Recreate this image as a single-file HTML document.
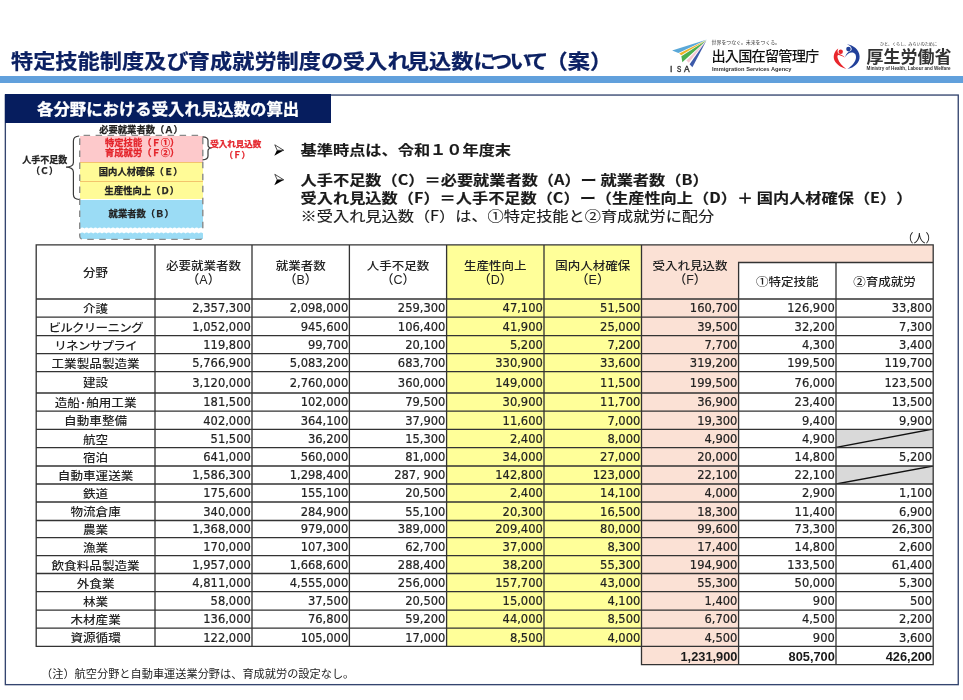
<!DOCTYPE html>
<html lang="ja"><head><meta charset="utf-8"><title>受入れ見込数</title>
<style>
html,body{margin:0;padding:0;}
body{width:963px;height:700px;position:relative;overflow:hidden;background:#fff;color:#1a1a1a;font-family:'Liberation Sans', 'Noto Sans CJK JP', sans-serif;}
.a{position:absolute;white-space:nowrap;line-height:1;}
*{text-spacing-trim:space-all;}
</style></head><body>
<div class="a" style="left:11px;top:49.5px;font-size:22.2px;font-weight:700;-webkit-text-stroke:0.25px #0c2163;color:#0c2163;transform:scaleY(0.91);font-feature-settings:'palt';transform-origin:0 0;font-family:'Noto Sans CJK JP', 'Liberation Sans', sans-serif;">特定技能制度及び育成就労制度の受入<span style="letter-spacing:-2.6px">れ</span>見込数<span style="letter-spacing:-4.2px">に</span><span style="letter-spacing:-2.1px">つ</span><span style="letter-spacing:-4.2px">い</span><span style="letter-spacing:-1px">て</span><span style="font-feature-settings:normal">（案）</span></div>
<div style="position:absolute;left:0;top:76px;width:963px;height:7px;background:#61a0dc;"></div>
<svg style="position:absolute;left:0;top:0" width="963" height="700"><rect x="5.35" y="95.05" width="952.9" height="589.6" stroke="#34456f" stroke-width="1.35" fill="none"/></svg>
<div style="position:absolute;left:5px;top:94.1px;width:325.8px;height:28.5px;background:#061d5e;"></div>
<div class="a" style="left:37px;top:100.2px;font-size:16.4px;font-weight:bold;color:#fff;-webkit-text-stroke:0.3px #fff;font-family:'Noto Sans CJK JP', 'Liberation Sans', sans-serif;">各分野における受入れ見込数の算出</div>
<div style="position:absolute;left:446.60px;top:244.80px;width:194.90px;height:401.50px;background:#ffff99;"></div>
<div style="position:absolute;left:641.50px;top:244.80px;width:97.10px;height:419.80px;background:#fbe1d5;"></div>
<div style="position:absolute;left:738.60px;top:244.80px;width:194.60px;height:17.70px;background:#fbe1d5;"></div>
<div style="position:absolute;left:836.00px;top:429.30px;width:97.20px;height:18.40px;background:#d9d9d9;"></div>
<svg style="position:absolute;left:836.00px;top:429.30px" width="97.20" height="18.40"><line x1="0" y1="18.40" x2="97.20" y2="0" stroke="#111" stroke-width="1.4"/></svg>
<div style="position:absolute;left:836.00px;top:466.00px;width:97.20px;height:18.00px;background:#d9d9d9;"></div>
<svg style="position:absolute;left:836.00px;top:466.00px" width="97.20" height="18.00"><line x1="0" y1="18.00" x2="97.20" y2="0" stroke="#111" stroke-width="1.4"/></svg>
<svg style="position:absolute;left:0;top:0" width="963" height="700"><path d="M35.55,244.80H933.85 M35.55,299.00H933.85 M35.55,317.20H933.85 M35.55,335.60H933.85 M35.55,353.60H933.85 M35.55,371.70H933.85 M35.55,393.00H933.85 M35.55,411.20H933.85 M35.55,429.30H933.85 M35.55,447.70H933.85 M35.55,466.00H933.85 M35.55,484.00H933.85 M35.55,502.00H933.85 M35.55,520.50H933.85 M35.55,537.70H933.85 M35.55,555.70H933.85 M35.55,573.50H933.85 M35.55,591.70H933.85 M35.55,610.10H933.85 M35.55,628.10H933.85 M35.55,646.30H933.85 M640.85,664.60H933.85 M737.95,262.5H933.85 M36.20,244.15V646.95 M155.00,244.15V646.95 M252.00,244.15V646.95 M349.40,244.15V646.95 M446.60,244.15V646.95 M544.00,244.15V646.95 M641.50,244.15V665.25 M738.60,261.85V665.25 M836.00,261.85V665.25 M933.20,244.15V665.25" stroke="#333" stroke-width="1.3" fill="none"/></svg>
<div style="position:absolute;left:36.20px;width:118.80px;top:265.70px;height:15.00px;line-height:15.00px;text-align:center;font-size:12.5px;font-family:'Liberation Sans', 'Noto Sans CJK JP', sans-serif;white-space:nowrap;font-weight:500;color:#222;transform:scaleY(0.9);">分野</div>
<div style="position:absolute;left:155.00px;width:97.00px;top:259.10px;height:15.00px;line-height:15.00px;text-align:center;font-size:12.5px;font-family:'Liberation Sans', 'Noto Sans CJK JP', sans-serif;white-space:nowrap;font-weight:500;color:#222;transform:scaleY(0.87);">必要就業者数</div>
<div style="position:absolute;left:155.00px;width:97.00px;top:273.20px;height:15.00px;line-height:15.00px;text-align:center;font-size:12.5px;font-family:'Liberation Sans', 'Noto Sans CJK JP', sans-serif;white-space:nowrap;font-weight:500;color:#222;">（A）</div>
<div style="position:absolute;left:252.00px;width:97.40px;top:259.10px;height:15.00px;line-height:15.00px;text-align:center;font-size:12.5px;font-family:'Liberation Sans', 'Noto Sans CJK JP', sans-serif;white-space:nowrap;font-weight:500;color:#222;transform:scaleY(0.87);">就業者数</div>
<div style="position:absolute;left:252.00px;width:97.40px;top:273.20px;height:15.00px;line-height:15.00px;text-align:center;font-size:12.5px;font-family:'Liberation Sans', 'Noto Sans CJK JP', sans-serif;white-space:nowrap;font-weight:500;color:#222;">（B）</div>
<div style="position:absolute;left:349.40px;width:97.20px;top:259.10px;height:15.00px;line-height:15.00px;text-align:center;font-size:12.5px;font-family:'Liberation Sans', 'Noto Sans CJK JP', sans-serif;white-space:nowrap;font-weight:500;color:#222;transform:scaleY(0.87);">人手不足数</div>
<div style="position:absolute;left:349.40px;width:97.20px;top:273.20px;height:15.00px;line-height:15.00px;text-align:center;font-size:12.5px;font-family:'Liberation Sans', 'Noto Sans CJK JP', sans-serif;white-space:nowrap;font-weight:500;color:#222;">（C）</div>
<div style="position:absolute;left:446.60px;width:97.40px;top:259.10px;height:15.00px;line-height:15.00px;text-align:center;font-size:12.5px;font-family:'Liberation Sans', 'Noto Sans CJK JP', sans-serif;white-space:nowrap;font-weight:500;color:#222;transform:scaleY(0.87);">生産性向上</div>
<div style="position:absolute;left:446.60px;width:97.40px;top:273.20px;height:15.00px;line-height:15.00px;text-align:center;font-size:12.5px;font-family:'Liberation Sans', 'Noto Sans CJK JP', sans-serif;white-space:nowrap;font-weight:500;color:#222;">（D）</div>
<div style="position:absolute;left:544.00px;width:97.50px;top:259.10px;height:15.00px;line-height:15.00px;text-align:center;font-size:12.5px;font-family:'Liberation Sans', 'Noto Sans CJK JP', sans-serif;white-space:nowrap;font-weight:500;color:#222;transform:scaleY(0.87);">国内人材確保</div>
<div style="position:absolute;left:544.00px;width:97.50px;top:273.20px;height:15.00px;line-height:15.00px;text-align:center;font-size:12.5px;font-family:'Liberation Sans', 'Noto Sans CJK JP', sans-serif;white-space:nowrap;font-weight:500;color:#222;">（E）</div>
<div style="position:absolute;left:641.50px;width:97.10px;top:259.10px;height:15.00px;line-height:15.00px;text-align:center;font-size:12.5px;font-family:'Liberation Sans', 'Noto Sans CJK JP', sans-serif;white-space:nowrap;font-weight:500;color:#222;transform:scaleY(0.87);">受入れ見込数</div>
<div style="position:absolute;left:641.50px;width:97.10px;top:273.20px;height:15.00px;line-height:15.00px;text-align:center;font-size:12.5px;font-family:'Liberation Sans', 'Noto Sans CJK JP', sans-serif;white-space:nowrap;font-weight:500;color:#222;">（F）</div>
<div style="position:absolute;left:738.60px;width:97.40px;top:274.50px;height:15.00px;line-height:15.00px;text-align:center;font-size:12.5px;font-family:'Liberation Sans', 'Noto Sans CJK JP', sans-serif;white-space:nowrap;font-weight:500;color:#222;transform:scaleY(0.9);">①特定技能</div>
<div style="position:absolute;left:836.00px;width:97.20px;top:274.50px;height:15.00px;line-height:15.00px;text-align:center;font-size:12.5px;font-family:'Liberation Sans', 'Noto Sans CJK JP', sans-serif;white-space:nowrap;font-weight:500;color:#222;transform:scaleY(0.9);">②育成就労</div>
<div style="position:absolute;left:36.20px;width:118.80px;top:302.24px;height:15.12px;line-height:15.12px;text-align:center;font-size:12.6px;font-family:'Liberation Sans', 'Noto Sans CJK JP', sans-serif;white-space:nowrap;font-weight:500;color:#222;transform:scaleY(0.87);">介護</div>
<div style="position:absolute;right:712.20px;top:302.40px;height:13.80px;line-height:13.80px;text-align:right;font-size:11.5px;font-family:'DejaVu Sans', sans-serif;white-space:nowrap;color:#222;-webkit-text-stroke:0.2px #222;">2,357,300</div>
<div style="position:absolute;right:614.80px;top:302.40px;height:13.80px;line-height:13.80px;text-align:right;font-size:11.5px;font-family:'DejaVu Sans', sans-serif;white-space:nowrap;color:#222;-webkit-text-stroke:0.2px #222;">2,098,000</div>
<div style="position:absolute;right:517.60px;top:302.40px;height:13.80px;line-height:13.80px;text-align:right;font-size:11.5px;font-family:'DejaVu Sans', sans-serif;white-space:nowrap;color:#222;-webkit-text-stroke:0.2px #222;">259,300</div>
<div style="position:absolute;right:420.20px;top:302.40px;height:13.80px;line-height:13.80px;text-align:right;font-size:11.5px;font-family:'DejaVu Sans', sans-serif;white-space:nowrap;color:#222;-webkit-text-stroke:0.2px #222;">47,100</div>
<div style="position:absolute;right:322.70px;top:302.40px;height:13.80px;line-height:13.80px;text-align:right;font-size:11.5px;font-family:'DejaVu Sans', sans-serif;white-space:nowrap;color:#222;-webkit-text-stroke:0.2px #222;">51,500</div>
<div style="position:absolute;right:225.60px;top:302.40px;height:13.80px;line-height:13.80px;text-align:right;font-size:11.5px;font-family:'DejaVu Sans', sans-serif;white-space:nowrap;color:#222;-webkit-text-stroke:0.2px #222;">160,700</div>
<div style="position:absolute;right:128.20px;top:302.40px;height:13.80px;line-height:13.80px;text-align:right;font-size:11.5px;font-family:'DejaVu Sans', sans-serif;white-space:nowrap;color:#222;-webkit-text-stroke:0.2px #222;">126,900</div>
<div style="position:absolute;right:31.00px;top:302.40px;height:13.80px;line-height:13.80px;text-align:right;font-size:11.5px;font-family:'DejaVu Sans', sans-serif;white-space:nowrap;color:#222;-webkit-text-stroke:0.2px #222;">33,800</div>
<div style="position:absolute;left:36.20px;width:118.80px;top:320.54px;height:15.12px;line-height:15.12px;text-align:center;font-size:12.6px;font-family:'Liberation Sans', 'Noto Sans CJK JP', sans-serif;white-space:nowrap;font-weight:500;color:#222;letter-spacing:-0.8px;transform:scaleY(0.87);">ビルクリーニング</div>
<div style="position:absolute;right:712.20px;top:320.70px;height:13.80px;line-height:13.80px;text-align:right;font-size:11.5px;font-family:'DejaVu Sans', sans-serif;white-space:nowrap;color:#222;-webkit-text-stroke:0.2px #222;">1,052,000</div>
<div style="position:absolute;right:614.80px;top:320.70px;height:13.80px;line-height:13.80px;text-align:right;font-size:11.5px;font-family:'DejaVu Sans', sans-serif;white-space:nowrap;color:#222;-webkit-text-stroke:0.2px #222;">945,600</div>
<div style="position:absolute;right:517.60px;top:320.70px;height:13.80px;line-height:13.80px;text-align:right;font-size:11.5px;font-family:'DejaVu Sans', sans-serif;white-space:nowrap;color:#222;-webkit-text-stroke:0.2px #222;">106,400</div>
<div style="position:absolute;right:420.20px;top:320.70px;height:13.80px;line-height:13.80px;text-align:right;font-size:11.5px;font-family:'DejaVu Sans', sans-serif;white-space:nowrap;color:#222;-webkit-text-stroke:0.2px #222;">41,900</div>
<div style="position:absolute;right:322.70px;top:320.70px;height:13.80px;line-height:13.80px;text-align:right;font-size:11.5px;font-family:'DejaVu Sans', sans-serif;white-space:nowrap;color:#222;-webkit-text-stroke:0.2px #222;">25,000</div>
<div style="position:absolute;right:225.60px;top:320.70px;height:13.80px;line-height:13.80px;text-align:right;font-size:11.5px;font-family:'DejaVu Sans', sans-serif;white-space:nowrap;color:#222;-webkit-text-stroke:0.2px #222;">39,500</div>
<div style="position:absolute;right:128.20px;top:320.70px;height:13.80px;line-height:13.80px;text-align:right;font-size:11.5px;font-family:'DejaVu Sans', sans-serif;white-space:nowrap;color:#222;-webkit-text-stroke:0.2px #222;">32,200</div>
<div style="position:absolute;right:31.00px;top:320.70px;height:13.80px;line-height:13.80px;text-align:right;font-size:11.5px;font-family:'DejaVu Sans', sans-serif;white-space:nowrap;color:#222;-webkit-text-stroke:0.2px #222;">7,300</div>
<div style="position:absolute;left:36.20px;width:118.80px;top:338.74px;height:15.12px;line-height:15.12px;text-align:center;font-size:12.6px;font-family:'Liberation Sans', 'Noto Sans CJK JP', sans-serif;white-space:nowrap;font-weight:500;color:#222;letter-spacing:-0.8px;transform:scaleY(0.87);">リネンサプライ</div>
<div style="position:absolute;right:712.20px;top:338.90px;height:13.80px;line-height:13.80px;text-align:right;font-size:11.5px;font-family:'DejaVu Sans', sans-serif;white-space:nowrap;color:#222;-webkit-text-stroke:0.2px #222;">119,800</div>
<div style="position:absolute;right:614.80px;top:338.90px;height:13.80px;line-height:13.80px;text-align:right;font-size:11.5px;font-family:'DejaVu Sans', sans-serif;white-space:nowrap;color:#222;-webkit-text-stroke:0.2px #222;">99,700</div>
<div style="position:absolute;right:517.60px;top:338.90px;height:13.80px;line-height:13.80px;text-align:right;font-size:11.5px;font-family:'DejaVu Sans', sans-serif;white-space:nowrap;color:#222;-webkit-text-stroke:0.2px #222;">20,100</div>
<div style="position:absolute;right:420.20px;top:338.90px;height:13.80px;line-height:13.80px;text-align:right;font-size:11.5px;font-family:'DejaVu Sans', sans-serif;white-space:nowrap;color:#222;-webkit-text-stroke:0.2px #222;">5,200</div>
<div style="position:absolute;right:322.70px;top:338.90px;height:13.80px;line-height:13.80px;text-align:right;font-size:11.5px;font-family:'DejaVu Sans', sans-serif;white-space:nowrap;color:#222;-webkit-text-stroke:0.2px #222;">7,200</div>
<div style="position:absolute;right:225.60px;top:338.90px;height:13.80px;line-height:13.80px;text-align:right;font-size:11.5px;font-family:'DejaVu Sans', sans-serif;white-space:nowrap;color:#222;-webkit-text-stroke:0.2px #222;">7,700</div>
<div style="position:absolute;right:128.20px;top:338.90px;height:13.80px;line-height:13.80px;text-align:right;font-size:11.5px;font-family:'DejaVu Sans', sans-serif;white-space:nowrap;color:#222;-webkit-text-stroke:0.2px #222;">4,300</div>
<div style="position:absolute;right:31.00px;top:338.90px;height:13.80px;line-height:13.80px;text-align:right;font-size:11.5px;font-family:'DejaVu Sans', sans-serif;white-space:nowrap;color:#222;-webkit-text-stroke:0.2px #222;">3,400</div>
<div style="position:absolute;left:36.20px;width:118.80px;top:356.79px;height:15.12px;line-height:15.12px;text-align:center;font-size:12.6px;font-family:'Liberation Sans', 'Noto Sans CJK JP', sans-serif;white-space:nowrap;font-weight:500;color:#222;transform:scaleY(0.87);">工業製品製造業</div>
<div style="position:absolute;right:712.20px;top:356.95px;height:13.80px;line-height:13.80px;text-align:right;font-size:11.5px;font-family:'DejaVu Sans', sans-serif;white-space:nowrap;color:#222;-webkit-text-stroke:0.2px #222;">5,766,900</div>
<div style="position:absolute;right:614.80px;top:356.95px;height:13.80px;line-height:13.80px;text-align:right;font-size:11.5px;font-family:'DejaVu Sans', sans-serif;white-space:nowrap;color:#222;-webkit-text-stroke:0.2px #222;">5,083,200</div>
<div style="position:absolute;right:517.60px;top:356.95px;height:13.80px;line-height:13.80px;text-align:right;font-size:11.5px;font-family:'DejaVu Sans', sans-serif;white-space:nowrap;color:#222;-webkit-text-stroke:0.2px #222;">683,700</div>
<div style="position:absolute;right:420.20px;top:356.95px;height:13.80px;line-height:13.80px;text-align:right;font-size:11.5px;font-family:'DejaVu Sans', sans-serif;white-space:nowrap;color:#222;-webkit-text-stroke:0.2px #222;">330,900</div>
<div style="position:absolute;right:322.70px;top:356.95px;height:13.80px;line-height:13.80px;text-align:right;font-size:11.5px;font-family:'DejaVu Sans', sans-serif;white-space:nowrap;color:#222;-webkit-text-stroke:0.2px #222;">33,600</div>
<div style="position:absolute;right:225.60px;top:356.95px;height:13.80px;line-height:13.80px;text-align:right;font-size:11.5px;font-family:'DejaVu Sans', sans-serif;white-space:nowrap;color:#222;-webkit-text-stroke:0.2px #222;">319,200</div>
<div style="position:absolute;right:128.20px;top:356.95px;height:13.80px;line-height:13.80px;text-align:right;font-size:11.5px;font-family:'DejaVu Sans', sans-serif;white-space:nowrap;color:#222;-webkit-text-stroke:0.2px #222;">199,500</div>
<div style="position:absolute;right:31.00px;top:356.95px;height:13.80px;line-height:13.80px;text-align:right;font-size:11.5px;font-family:'DejaVu Sans', sans-serif;white-space:nowrap;color:#222;-webkit-text-stroke:0.2px #222;">119,700</div>
<div style="position:absolute;left:36.20px;width:118.80px;top:376.49px;height:15.12px;line-height:15.12px;text-align:center;font-size:12.6px;font-family:'Liberation Sans', 'Noto Sans CJK JP', sans-serif;white-space:nowrap;font-weight:500;color:#222;transform:scaleY(0.87);">建設</div>
<div style="position:absolute;right:712.20px;top:376.65px;height:13.80px;line-height:13.80px;text-align:right;font-size:11.5px;font-family:'DejaVu Sans', sans-serif;white-space:nowrap;color:#222;-webkit-text-stroke:0.2px #222;">3,120,000</div>
<div style="position:absolute;right:614.80px;top:376.65px;height:13.80px;line-height:13.80px;text-align:right;font-size:11.5px;font-family:'DejaVu Sans', sans-serif;white-space:nowrap;color:#222;-webkit-text-stroke:0.2px #222;">2,760,000</div>
<div style="position:absolute;right:517.60px;top:376.65px;height:13.80px;line-height:13.80px;text-align:right;font-size:11.5px;font-family:'DejaVu Sans', sans-serif;white-space:nowrap;color:#222;-webkit-text-stroke:0.2px #222;">360,000</div>
<div style="position:absolute;right:420.20px;top:376.65px;height:13.80px;line-height:13.80px;text-align:right;font-size:11.5px;font-family:'DejaVu Sans', sans-serif;white-space:nowrap;color:#222;-webkit-text-stroke:0.2px #222;">149,000</div>
<div style="position:absolute;right:322.70px;top:376.65px;height:13.80px;line-height:13.80px;text-align:right;font-size:11.5px;font-family:'DejaVu Sans', sans-serif;white-space:nowrap;color:#222;-webkit-text-stroke:0.2px #222;">11,500</div>
<div style="position:absolute;right:225.60px;top:376.65px;height:13.80px;line-height:13.80px;text-align:right;font-size:11.5px;font-family:'DejaVu Sans', sans-serif;white-space:nowrap;color:#222;-webkit-text-stroke:0.2px #222;">199,500</div>
<div style="position:absolute;right:128.20px;top:376.65px;height:13.80px;line-height:13.80px;text-align:right;font-size:11.5px;font-family:'DejaVu Sans', sans-serif;white-space:nowrap;color:#222;-webkit-text-stroke:0.2px #222;">76,000</div>
<div style="position:absolute;right:31.00px;top:376.65px;height:13.80px;line-height:13.80px;text-align:right;font-size:11.5px;font-family:'DejaVu Sans', sans-serif;white-space:nowrap;color:#222;-webkit-text-stroke:0.2px #222;">123,500</div>
<div style="position:absolute;left:36.20px;width:118.80px;top:396.24px;height:15.12px;line-height:15.12px;text-align:center;font-size:12.6px;font-family:'Liberation Sans', 'Noto Sans CJK JP', sans-serif;white-space:nowrap;font-weight:500;color:#222;transform:scaleY(0.87);">造船･舶用工業</div>
<div style="position:absolute;right:712.20px;top:396.40px;height:13.80px;line-height:13.80px;text-align:right;font-size:11.5px;font-family:'DejaVu Sans', sans-serif;white-space:nowrap;color:#222;-webkit-text-stroke:0.2px #222;">181,500</div>
<div style="position:absolute;right:614.80px;top:396.40px;height:13.80px;line-height:13.80px;text-align:right;font-size:11.5px;font-family:'DejaVu Sans', sans-serif;white-space:nowrap;color:#222;-webkit-text-stroke:0.2px #222;">102,000</div>
<div style="position:absolute;right:517.60px;top:396.40px;height:13.80px;line-height:13.80px;text-align:right;font-size:11.5px;font-family:'DejaVu Sans', sans-serif;white-space:nowrap;color:#222;-webkit-text-stroke:0.2px #222;">79,500</div>
<div style="position:absolute;right:420.20px;top:396.40px;height:13.80px;line-height:13.80px;text-align:right;font-size:11.5px;font-family:'DejaVu Sans', sans-serif;white-space:nowrap;color:#222;-webkit-text-stroke:0.2px #222;">30,900</div>
<div style="position:absolute;right:322.70px;top:396.40px;height:13.80px;line-height:13.80px;text-align:right;font-size:11.5px;font-family:'DejaVu Sans', sans-serif;white-space:nowrap;color:#222;-webkit-text-stroke:0.2px #222;">11,700</div>
<div style="position:absolute;right:225.60px;top:396.40px;height:13.80px;line-height:13.80px;text-align:right;font-size:11.5px;font-family:'DejaVu Sans', sans-serif;white-space:nowrap;color:#222;-webkit-text-stroke:0.2px #222;">36,900</div>
<div style="position:absolute;right:128.20px;top:396.40px;height:13.80px;line-height:13.80px;text-align:right;font-size:11.5px;font-family:'DejaVu Sans', sans-serif;white-space:nowrap;color:#222;-webkit-text-stroke:0.2px #222;">23,400</div>
<div style="position:absolute;right:31.00px;top:396.40px;height:13.80px;line-height:13.80px;text-align:right;font-size:11.5px;font-family:'DejaVu Sans', sans-serif;white-space:nowrap;color:#222;-webkit-text-stroke:0.2px #222;">13,500</div>
<div style="position:absolute;left:36.20px;width:118.80px;top:414.39px;height:15.12px;line-height:15.12px;text-align:center;font-size:12.6px;font-family:'Liberation Sans', 'Noto Sans CJK JP', sans-serif;white-space:nowrap;font-weight:500;color:#222;transform:scaleY(0.87);">自動車整備</div>
<div style="position:absolute;right:712.20px;top:414.55px;height:13.80px;line-height:13.80px;text-align:right;font-size:11.5px;font-family:'DejaVu Sans', sans-serif;white-space:nowrap;color:#222;-webkit-text-stroke:0.2px #222;">402,000</div>
<div style="position:absolute;right:614.80px;top:414.55px;height:13.80px;line-height:13.80px;text-align:right;font-size:11.5px;font-family:'DejaVu Sans', sans-serif;white-space:nowrap;color:#222;-webkit-text-stroke:0.2px #222;">364,100</div>
<div style="position:absolute;right:517.60px;top:414.55px;height:13.80px;line-height:13.80px;text-align:right;font-size:11.5px;font-family:'DejaVu Sans', sans-serif;white-space:nowrap;color:#222;-webkit-text-stroke:0.2px #222;">37,900</div>
<div style="position:absolute;right:420.20px;top:414.55px;height:13.80px;line-height:13.80px;text-align:right;font-size:11.5px;font-family:'DejaVu Sans', sans-serif;white-space:nowrap;color:#222;-webkit-text-stroke:0.2px #222;">11,600</div>
<div style="position:absolute;right:322.70px;top:414.55px;height:13.80px;line-height:13.80px;text-align:right;font-size:11.5px;font-family:'DejaVu Sans', sans-serif;white-space:nowrap;color:#222;-webkit-text-stroke:0.2px #222;">7,000</div>
<div style="position:absolute;right:225.60px;top:414.55px;height:13.80px;line-height:13.80px;text-align:right;font-size:11.5px;font-family:'DejaVu Sans', sans-serif;white-space:nowrap;color:#222;-webkit-text-stroke:0.2px #222;">19,300</div>
<div style="position:absolute;right:128.20px;top:414.55px;height:13.80px;line-height:13.80px;text-align:right;font-size:11.5px;font-family:'DejaVu Sans', sans-serif;white-space:nowrap;color:#222;-webkit-text-stroke:0.2px #222;">9,400</div>
<div style="position:absolute;right:31.00px;top:414.55px;height:13.80px;line-height:13.80px;text-align:right;font-size:11.5px;font-family:'DejaVu Sans', sans-serif;white-space:nowrap;color:#222;-webkit-text-stroke:0.2px #222;">9,900</div>
<div style="position:absolute;left:36.20px;width:118.80px;top:432.64px;height:15.12px;line-height:15.12px;text-align:center;font-size:12.6px;font-family:'Liberation Sans', 'Noto Sans CJK JP', sans-serif;white-space:nowrap;font-weight:500;color:#222;transform:scaleY(0.87);">航空</div>
<div style="position:absolute;right:712.20px;top:432.80px;height:13.80px;line-height:13.80px;text-align:right;font-size:11.5px;font-family:'DejaVu Sans', sans-serif;white-space:nowrap;color:#222;-webkit-text-stroke:0.2px #222;">51,500</div>
<div style="position:absolute;right:614.80px;top:432.80px;height:13.80px;line-height:13.80px;text-align:right;font-size:11.5px;font-family:'DejaVu Sans', sans-serif;white-space:nowrap;color:#222;-webkit-text-stroke:0.2px #222;">36,200</div>
<div style="position:absolute;right:517.60px;top:432.80px;height:13.80px;line-height:13.80px;text-align:right;font-size:11.5px;font-family:'DejaVu Sans', sans-serif;white-space:nowrap;color:#222;-webkit-text-stroke:0.2px #222;">15,300</div>
<div style="position:absolute;right:420.20px;top:432.80px;height:13.80px;line-height:13.80px;text-align:right;font-size:11.5px;font-family:'DejaVu Sans', sans-serif;white-space:nowrap;color:#222;-webkit-text-stroke:0.2px #222;">2,400</div>
<div style="position:absolute;right:322.70px;top:432.80px;height:13.80px;line-height:13.80px;text-align:right;font-size:11.5px;font-family:'DejaVu Sans', sans-serif;white-space:nowrap;color:#222;-webkit-text-stroke:0.2px #222;">8,000</div>
<div style="position:absolute;right:225.60px;top:432.80px;height:13.80px;line-height:13.80px;text-align:right;font-size:11.5px;font-family:'DejaVu Sans', sans-serif;white-space:nowrap;color:#222;-webkit-text-stroke:0.2px #222;">4,900</div>
<div style="position:absolute;right:128.20px;top:432.80px;height:13.80px;line-height:13.80px;text-align:right;font-size:11.5px;font-family:'DejaVu Sans', sans-serif;white-space:nowrap;color:#222;-webkit-text-stroke:0.2px #222;">4,900</div>
<div style="position:absolute;left:36.20px;width:118.80px;top:450.99px;height:15.12px;line-height:15.12px;text-align:center;font-size:12.6px;font-family:'Liberation Sans', 'Noto Sans CJK JP', sans-serif;white-space:nowrap;font-weight:500;color:#222;transform:scaleY(0.87);">宿泊</div>
<div style="position:absolute;right:712.20px;top:451.15px;height:13.80px;line-height:13.80px;text-align:right;font-size:11.5px;font-family:'DejaVu Sans', sans-serif;white-space:nowrap;color:#222;-webkit-text-stroke:0.2px #222;">641,000</div>
<div style="position:absolute;right:614.80px;top:451.15px;height:13.80px;line-height:13.80px;text-align:right;font-size:11.5px;font-family:'DejaVu Sans', sans-serif;white-space:nowrap;color:#222;-webkit-text-stroke:0.2px #222;">560,000</div>
<div style="position:absolute;right:517.60px;top:451.15px;height:13.80px;line-height:13.80px;text-align:right;font-size:11.5px;font-family:'DejaVu Sans', sans-serif;white-space:nowrap;color:#222;-webkit-text-stroke:0.2px #222;">81,000</div>
<div style="position:absolute;right:420.20px;top:451.15px;height:13.80px;line-height:13.80px;text-align:right;font-size:11.5px;font-family:'DejaVu Sans', sans-serif;white-space:nowrap;color:#222;-webkit-text-stroke:0.2px #222;">34,000</div>
<div style="position:absolute;right:322.70px;top:451.15px;height:13.80px;line-height:13.80px;text-align:right;font-size:11.5px;font-family:'DejaVu Sans', sans-serif;white-space:nowrap;color:#222;-webkit-text-stroke:0.2px #222;">27,000</div>
<div style="position:absolute;right:225.60px;top:451.15px;height:13.80px;line-height:13.80px;text-align:right;font-size:11.5px;font-family:'DejaVu Sans', sans-serif;white-space:nowrap;color:#222;-webkit-text-stroke:0.2px #222;">20,000</div>
<div style="position:absolute;right:128.20px;top:451.15px;height:13.80px;line-height:13.80px;text-align:right;font-size:11.5px;font-family:'DejaVu Sans', sans-serif;white-space:nowrap;color:#222;-webkit-text-stroke:0.2px #222;">14,800</div>
<div style="position:absolute;right:31.00px;top:451.15px;height:13.80px;line-height:13.80px;text-align:right;font-size:11.5px;font-family:'DejaVu Sans', sans-serif;white-space:nowrap;color:#222;-webkit-text-stroke:0.2px #222;">5,200</div>
<div style="position:absolute;left:36.20px;width:118.80px;top:469.14px;height:15.12px;line-height:15.12px;text-align:center;font-size:12.6px;font-family:'Liberation Sans', 'Noto Sans CJK JP', sans-serif;white-space:nowrap;font-weight:500;color:#222;transform:scaleY(0.87);">自動車運送業</div>
<div style="position:absolute;right:712.20px;top:469.30px;height:13.80px;line-height:13.80px;text-align:right;font-size:11.5px;font-family:'DejaVu Sans', sans-serif;white-space:nowrap;color:#222;-webkit-text-stroke:0.2px #222;">1,586,300</div>
<div style="position:absolute;right:614.80px;top:469.30px;height:13.80px;line-height:13.80px;text-align:right;font-size:11.5px;font-family:'DejaVu Sans', sans-serif;white-space:nowrap;color:#222;-webkit-text-stroke:0.2px #222;">1,298,400</div>
<div style="position:absolute;right:517.60px;top:469.30px;height:13.80px;line-height:13.80px;text-align:right;font-size:11.5px;font-family:'DejaVu Sans', sans-serif;white-space:nowrap;color:#222;-webkit-text-stroke:0.2px #222;">287, 900</div>
<div style="position:absolute;right:420.20px;top:469.30px;height:13.80px;line-height:13.80px;text-align:right;font-size:11.5px;font-family:'DejaVu Sans', sans-serif;white-space:nowrap;color:#222;-webkit-text-stroke:0.2px #222;">142,800</div>
<div style="position:absolute;right:322.70px;top:469.30px;height:13.80px;line-height:13.80px;text-align:right;font-size:11.5px;font-family:'DejaVu Sans', sans-serif;white-space:nowrap;color:#222;-webkit-text-stroke:0.2px #222;">123,000</div>
<div style="position:absolute;right:225.60px;top:469.30px;height:13.80px;line-height:13.80px;text-align:right;font-size:11.5px;font-family:'DejaVu Sans', sans-serif;white-space:nowrap;color:#222;-webkit-text-stroke:0.2px #222;">22,100</div>
<div style="position:absolute;right:128.20px;top:469.30px;height:13.80px;line-height:13.80px;text-align:right;font-size:11.5px;font-family:'DejaVu Sans', sans-serif;white-space:nowrap;color:#222;-webkit-text-stroke:0.2px #222;">22,100</div>
<div style="position:absolute;left:36.20px;width:118.80px;top:487.14px;height:15.12px;line-height:15.12px;text-align:center;font-size:12.6px;font-family:'Liberation Sans', 'Noto Sans CJK JP', sans-serif;white-space:nowrap;font-weight:500;color:#222;transform:scaleY(0.87);">鉄道</div>
<div style="position:absolute;right:712.20px;top:487.30px;height:13.80px;line-height:13.80px;text-align:right;font-size:11.5px;font-family:'DejaVu Sans', sans-serif;white-space:nowrap;color:#222;-webkit-text-stroke:0.2px #222;">175,600</div>
<div style="position:absolute;right:614.80px;top:487.30px;height:13.80px;line-height:13.80px;text-align:right;font-size:11.5px;font-family:'DejaVu Sans', sans-serif;white-space:nowrap;color:#222;-webkit-text-stroke:0.2px #222;">155,100</div>
<div style="position:absolute;right:517.60px;top:487.30px;height:13.80px;line-height:13.80px;text-align:right;font-size:11.5px;font-family:'DejaVu Sans', sans-serif;white-space:nowrap;color:#222;-webkit-text-stroke:0.2px #222;">20,500</div>
<div style="position:absolute;right:420.20px;top:487.30px;height:13.80px;line-height:13.80px;text-align:right;font-size:11.5px;font-family:'DejaVu Sans', sans-serif;white-space:nowrap;color:#222;-webkit-text-stroke:0.2px #222;">2,400</div>
<div style="position:absolute;right:322.70px;top:487.30px;height:13.80px;line-height:13.80px;text-align:right;font-size:11.5px;font-family:'DejaVu Sans', sans-serif;white-space:nowrap;color:#222;-webkit-text-stroke:0.2px #222;">14,100</div>
<div style="position:absolute;right:225.60px;top:487.30px;height:13.80px;line-height:13.80px;text-align:right;font-size:11.5px;font-family:'DejaVu Sans', sans-serif;white-space:nowrap;color:#222;-webkit-text-stroke:0.2px #222;">4,000</div>
<div style="position:absolute;right:128.20px;top:487.30px;height:13.80px;line-height:13.80px;text-align:right;font-size:11.5px;font-family:'DejaVu Sans', sans-serif;white-space:nowrap;color:#222;-webkit-text-stroke:0.2px #222;">2,900</div>
<div style="position:absolute;right:31.00px;top:487.30px;height:13.80px;line-height:13.80px;text-align:right;font-size:11.5px;font-family:'DejaVu Sans', sans-serif;white-space:nowrap;color:#222;-webkit-text-stroke:0.2px #222;">1,100</div>
<div style="position:absolute;left:36.20px;width:118.80px;top:505.39px;height:15.12px;line-height:15.12px;text-align:center;font-size:12.6px;font-family:'Liberation Sans', 'Noto Sans CJK JP', sans-serif;white-space:nowrap;font-weight:500;color:#222;transform:scaleY(0.87);">物流倉庫</div>
<div style="position:absolute;right:712.20px;top:505.55px;height:13.80px;line-height:13.80px;text-align:right;font-size:11.5px;font-family:'DejaVu Sans', sans-serif;white-space:nowrap;color:#222;-webkit-text-stroke:0.2px #222;">340,000</div>
<div style="position:absolute;right:614.80px;top:505.55px;height:13.80px;line-height:13.80px;text-align:right;font-size:11.5px;font-family:'DejaVu Sans', sans-serif;white-space:nowrap;color:#222;-webkit-text-stroke:0.2px #222;">284,900</div>
<div style="position:absolute;right:517.60px;top:505.55px;height:13.80px;line-height:13.80px;text-align:right;font-size:11.5px;font-family:'DejaVu Sans', sans-serif;white-space:nowrap;color:#222;-webkit-text-stroke:0.2px #222;">55,100</div>
<div style="position:absolute;right:420.20px;top:505.55px;height:13.80px;line-height:13.80px;text-align:right;font-size:11.5px;font-family:'DejaVu Sans', sans-serif;white-space:nowrap;color:#222;-webkit-text-stroke:0.2px #222;">20,300</div>
<div style="position:absolute;right:322.70px;top:505.55px;height:13.80px;line-height:13.80px;text-align:right;font-size:11.5px;font-family:'DejaVu Sans', sans-serif;white-space:nowrap;color:#222;-webkit-text-stroke:0.2px #222;">16,500</div>
<div style="position:absolute;right:225.60px;top:505.55px;height:13.80px;line-height:13.80px;text-align:right;font-size:11.5px;font-family:'DejaVu Sans', sans-serif;white-space:nowrap;color:#222;-webkit-text-stroke:0.2px #222;">18,300</div>
<div style="position:absolute;right:128.20px;top:505.55px;height:13.80px;line-height:13.80px;text-align:right;font-size:11.5px;font-family:'DejaVu Sans', sans-serif;white-space:nowrap;color:#222;-webkit-text-stroke:0.2px #222;">11,400</div>
<div style="position:absolute;right:31.00px;top:505.55px;height:13.80px;line-height:13.80px;text-align:right;font-size:11.5px;font-family:'DejaVu Sans', sans-serif;white-space:nowrap;color:#222;-webkit-text-stroke:0.2px #222;">6,900</div>
<div style="position:absolute;left:36.20px;width:118.80px;top:523.24px;height:15.12px;line-height:15.12px;text-align:center;font-size:12.6px;font-family:'Liberation Sans', 'Noto Sans CJK JP', sans-serif;white-space:nowrap;font-weight:500;color:#222;transform:scaleY(0.87);">農業</div>
<div style="position:absolute;right:712.20px;top:523.40px;height:13.80px;line-height:13.80px;text-align:right;font-size:11.5px;font-family:'DejaVu Sans', sans-serif;white-space:nowrap;color:#222;-webkit-text-stroke:0.2px #222;">1,368,000</div>
<div style="position:absolute;right:614.80px;top:523.40px;height:13.80px;line-height:13.80px;text-align:right;font-size:11.5px;font-family:'DejaVu Sans', sans-serif;white-space:nowrap;color:#222;-webkit-text-stroke:0.2px #222;">979,000</div>
<div style="position:absolute;right:517.60px;top:523.40px;height:13.80px;line-height:13.80px;text-align:right;font-size:11.5px;font-family:'DejaVu Sans', sans-serif;white-space:nowrap;color:#222;-webkit-text-stroke:0.2px #222;">389,000</div>
<div style="position:absolute;right:420.20px;top:523.40px;height:13.80px;line-height:13.80px;text-align:right;font-size:11.5px;font-family:'DejaVu Sans', sans-serif;white-space:nowrap;color:#222;-webkit-text-stroke:0.2px #222;">209,400</div>
<div style="position:absolute;right:322.70px;top:523.40px;height:13.80px;line-height:13.80px;text-align:right;font-size:11.5px;font-family:'DejaVu Sans', sans-serif;white-space:nowrap;color:#222;-webkit-text-stroke:0.2px #222;">80,000</div>
<div style="position:absolute;right:225.60px;top:523.40px;height:13.80px;line-height:13.80px;text-align:right;font-size:11.5px;font-family:'DejaVu Sans', sans-serif;white-space:nowrap;color:#222;-webkit-text-stroke:0.2px #222;">99,600</div>
<div style="position:absolute;right:128.20px;top:523.40px;height:13.80px;line-height:13.80px;text-align:right;font-size:11.5px;font-family:'DejaVu Sans', sans-serif;white-space:nowrap;color:#222;-webkit-text-stroke:0.2px #222;">73,300</div>
<div style="position:absolute;right:31.00px;top:523.40px;height:13.80px;line-height:13.80px;text-align:right;font-size:11.5px;font-family:'DejaVu Sans', sans-serif;white-space:nowrap;color:#222;-webkit-text-stroke:0.2px #222;">26,300</div>
<div style="position:absolute;left:36.20px;width:118.80px;top:540.84px;height:15.12px;line-height:15.12px;text-align:center;font-size:12.6px;font-family:'Liberation Sans', 'Noto Sans CJK JP', sans-serif;white-space:nowrap;font-weight:500;color:#222;transform:scaleY(0.87);">漁業</div>
<div style="position:absolute;right:712.20px;top:541.00px;height:13.80px;line-height:13.80px;text-align:right;font-size:11.5px;font-family:'DejaVu Sans', sans-serif;white-space:nowrap;color:#222;-webkit-text-stroke:0.2px #222;">170,000</div>
<div style="position:absolute;right:614.80px;top:541.00px;height:13.80px;line-height:13.80px;text-align:right;font-size:11.5px;font-family:'DejaVu Sans', sans-serif;white-space:nowrap;color:#222;-webkit-text-stroke:0.2px #222;">107,300</div>
<div style="position:absolute;right:517.60px;top:541.00px;height:13.80px;line-height:13.80px;text-align:right;font-size:11.5px;font-family:'DejaVu Sans', sans-serif;white-space:nowrap;color:#222;-webkit-text-stroke:0.2px #222;">62,700</div>
<div style="position:absolute;right:420.20px;top:541.00px;height:13.80px;line-height:13.80px;text-align:right;font-size:11.5px;font-family:'DejaVu Sans', sans-serif;white-space:nowrap;color:#222;-webkit-text-stroke:0.2px #222;">37,000</div>
<div style="position:absolute;right:322.70px;top:541.00px;height:13.80px;line-height:13.80px;text-align:right;font-size:11.5px;font-family:'DejaVu Sans', sans-serif;white-space:nowrap;color:#222;-webkit-text-stroke:0.2px #222;">8,300</div>
<div style="position:absolute;right:225.60px;top:541.00px;height:13.80px;line-height:13.80px;text-align:right;font-size:11.5px;font-family:'DejaVu Sans', sans-serif;white-space:nowrap;color:#222;-webkit-text-stroke:0.2px #222;">17,400</div>
<div style="position:absolute;right:128.20px;top:541.00px;height:13.80px;line-height:13.80px;text-align:right;font-size:11.5px;font-family:'DejaVu Sans', sans-serif;white-space:nowrap;color:#222;-webkit-text-stroke:0.2px #222;">14,800</div>
<div style="position:absolute;right:31.00px;top:541.00px;height:13.80px;line-height:13.80px;text-align:right;font-size:11.5px;font-family:'DejaVu Sans', sans-serif;white-space:nowrap;color:#222;-webkit-text-stroke:0.2px #222;">2,600</div>
<div style="position:absolute;left:36.20px;width:118.80px;top:558.74px;height:15.12px;line-height:15.12px;text-align:center;font-size:12.6px;font-family:'Liberation Sans', 'Noto Sans CJK JP', sans-serif;white-space:nowrap;font-weight:500;color:#222;transform:scaleY(0.87);">飲食料品製造業</div>
<div style="position:absolute;right:712.20px;top:558.90px;height:13.80px;line-height:13.80px;text-align:right;font-size:11.5px;font-family:'DejaVu Sans', sans-serif;white-space:nowrap;color:#222;-webkit-text-stroke:0.2px #222;">1,957,000</div>
<div style="position:absolute;right:614.80px;top:558.90px;height:13.80px;line-height:13.80px;text-align:right;font-size:11.5px;font-family:'DejaVu Sans', sans-serif;white-space:nowrap;color:#222;-webkit-text-stroke:0.2px #222;">1,668,600</div>
<div style="position:absolute;right:517.60px;top:558.90px;height:13.80px;line-height:13.80px;text-align:right;font-size:11.5px;font-family:'DejaVu Sans', sans-serif;white-space:nowrap;color:#222;-webkit-text-stroke:0.2px #222;">288,400</div>
<div style="position:absolute;right:420.20px;top:558.90px;height:13.80px;line-height:13.80px;text-align:right;font-size:11.5px;font-family:'DejaVu Sans', sans-serif;white-space:nowrap;color:#222;-webkit-text-stroke:0.2px #222;">38,200</div>
<div style="position:absolute;right:322.70px;top:558.90px;height:13.80px;line-height:13.80px;text-align:right;font-size:11.5px;font-family:'DejaVu Sans', sans-serif;white-space:nowrap;color:#222;-webkit-text-stroke:0.2px #222;">55,300</div>
<div style="position:absolute;right:225.60px;top:558.90px;height:13.80px;line-height:13.80px;text-align:right;font-size:11.5px;font-family:'DejaVu Sans', sans-serif;white-space:nowrap;color:#222;-webkit-text-stroke:0.2px #222;">194,900</div>
<div style="position:absolute;right:128.20px;top:558.90px;height:13.80px;line-height:13.80px;text-align:right;font-size:11.5px;font-family:'DejaVu Sans', sans-serif;white-space:nowrap;color:#222;-webkit-text-stroke:0.2px #222;">133,500</div>
<div style="position:absolute;right:31.00px;top:558.90px;height:13.80px;line-height:13.80px;text-align:right;font-size:11.5px;font-family:'DejaVu Sans', sans-serif;white-space:nowrap;color:#222;-webkit-text-stroke:0.2px #222;">61,400</div>
<div style="position:absolute;left:36.20px;width:118.80px;top:576.74px;height:15.12px;line-height:15.12px;text-align:center;font-size:12.6px;font-family:'Liberation Sans', 'Noto Sans CJK JP', sans-serif;white-space:nowrap;font-weight:500;color:#222;transform:scaleY(0.87);">外食業</div>
<div style="position:absolute;right:712.20px;top:576.90px;height:13.80px;line-height:13.80px;text-align:right;font-size:11.5px;font-family:'DejaVu Sans', sans-serif;white-space:nowrap;color:#222;-webkit-text-stroke:0.2px #222;">4,811,000</div>
<div style="position:absolute;right:614.80px;top:576.90px;height:13.80px;line-height:13.80px;text-align:right;font-size:11.5px;font-family:'DejaVu Sans', sans-serif;white-space:nowrap;color:#222;-webkit-text-stroke:0.2px #222;">4,555,000</div>
<div style="position:absolute;right:517.60px;top:576.90px;height:13.80px;line-height:13.80px;text-align:right;font-size:11.5px;font-family:'DejaVu Sans', sans-serif;white-space:nowrap;color:#222;-webkit-text-stroke:0.2px #222;">256,000</div>
<div style="position:absolute;right:420.20px;top:576.90px;height:13.80px;line-height:13.80px;text-align:right;font-size:11.5px;font-family:'DejaVu Sans', sans-serif;white-space:nowrap;color:#222;-webkit-text-stroke:0.2px #222;">157,700</div>
<div style="position:absolute;right:322.70px;top:576.90px;height:13.80px;line-height:13.80px;text-align:right;font-size:11.5px;font-family:'DejaVu Sans', sans-serif;white-space:nowrap;color:#222;-webkit-text-stroke:0.2px #222;">43,000</div>
<div style="position:absolute;right:225.60px;top:576.90px;height:13.80px;line-height:13.80px;text-align:right;font-size:11.5px;font-family:'DejaVu Sans', sans-serif;white-space:nowrap;color:#222;-webkit-text-stroke:0.2px #222;">55,300</div>
<div style="position:absolute;right:128.20px;top:576.90px;height:13.80px;line-height:13.80px;text-align:right;font-size:11.5px;font-family:'DejaVu Sans', sans-serif;white-space:nowrap;color:#222;-webkit-text-stroke:0.2px #222;">50,000</div>
<div style="position:absolute;right:31.00px;top:576.90px;height:13.80px;line-height:13.80px;text-align:right;font-size:11.5px;font-family:'DejaVu Sans', sans-serif;white-space:nowrap;color:#222;-webkit-text-stroke:0.2px #222;">5,300</div>
<div style="position:absolute;left:36.20px;width:118.80px;top:595.04px;height:15.12px;line-height:15.12px;text-align:center;font-size:12.6px;font-family:'Liberation Sans', 'Noto Sans CJK JP', sans-serif;white-space:nowrap;font-weight:500;color:#222;transform:scaleY(0.87);">林業</div>
<div style="position:absolute;right:712.20px;top:595.20px;height:13.80px;line-height:13.80px;text-align:right;font-size:11.5px;font-family:'DejaVu Sans', sans-serif;white-space:nowrap;color:#222;-webkit-text-stroke:0.2px #222;">58,000</div>
<div style="position:absolute;right:614.80px;top:595.20px;height:13.80px;line-height:13.80px;text-align:right;font-size:11.5px;font-family:'DejaVu Sans', sans-serif;white-space:nowrap;color:#222;-webkit-text-stroke:0.2px #222;">37,500</div>
<div style="position:absolute;right:517.60px;top:595.20px;height:13.80px;line-height:13.80px;text-align:right;font-size:11.5px;font-family:'DejaVu Sans', sans-serif;white-space:nowrap;color:#222;-webkit-text-stroke:0.2px #222;">20,500</div>
<div style="position:absolute;right:420.20px;top:595.20px;height:13.80px;line-height:13.80px;text-align:right;font-size:11.5px;font-family:'DejaVu Sans', sans-serif;white-space:nowrap;color:#222;-webkit-text-stroke:0.2px #222;">15,000</div>
<div style="position:absolute;right:322.70px;top:595.20px;height:13.80px;line-height:13.80px;text-align:right;font-size:11.5px;font-family:'DejaVu Sans', sans-serif;white-space:nowrap;color:#222;-webkit-text-stroke:0.2px #222;">4,100</div>
<div style="position:absolute;right:225.60px;top:595.20px;height:13.80px;line-height:13.80px;text-align:right;font-size:11.5px;font-family:'DejaVu Sans', sans-serif;white-space:nowrap;color:#222;-webkit-text-stroke:0.2px #222;">1,400</div>
<div style="position:absolute;right:128.20px;top:595.20px;height:13.80px;line-height:13.80px;text-align:right;font-size:11.5px;font-family:'DejaVu Sans', sans-serif;white-space:nowrap;color:#222;-webkit-text-stroke:0.2px #222;">900</div>
<div style="position:absolute;right:31.00px;top:595.20px;height:13.80px;line-height:13.80px;text-align:right;font-size:11.5px;font-family:'DejaVu Sans', sans-serif;white-space:nowrap;color:#222;-webkit-text-stroke:0.2px #222;">500</div>
<div style="position:absolute;left:36.20px;width:118.80px;top:613.24px;height:15.12px;line-height:15.12px;text-align:center;font-size:12.6px;font-family:'Liberation Sans', 'Noto Sans CJK JP', sans-serif;white-space:nowrap;font-weight:500;color:#222;transform:scaleY(0.87);">木材産業</div>
<div style="position:absolute;right:712.20px;top:613.40px;height:13.80px;line-height:13.80px;text-align:right;font-size:11.5px;font-family:'DejaVu Sans', sans-serif;white-space:nowrap;color:#222;-webkit-text-stroke:0.2px #222;">136,000</div>
<div style="position:absolute;right:614.80px;top:613.40px;height:13.80px;line-height:13.80px;text-align:right;font-size:11.5px;font-family:'DejaVu Sans', sans-serif;white-space:nowrap;color:#222;-webkit-text-stroke:0.2px #222;">76,800</div>
<div style="position:absolute;right:517.60px;top:613.40px;height:13.80px;line-height:13.80px;text-align:right;font-size:11.5px;font-family:'DejaVu Sans', sans-serif;white-space:nowrap;color:#222;-webkit-text-stroke:0.2px #222;">59,200</div>
<div style="position:absolute;right:420.20px;top:613.40px;height:13.80px;line-height:13.80px;text-align:right;font-size:11.5px;font-family:'DejaVu Sans', sans-serif;white-space:nowrap;color:#222;-webkit-text-stroke:0.2px #222;">44,000</div>
<div style="position:absolute;right:322.70px;top:613.40px;height:13.80px;line-height:13.80px;text-align:right;font-size:11.5px;font-family:'DejaVu Sans', sans-serif;white-space:nowrap;color:#222;-webkit-text-stroke:0.2px #222;">8,500</div>
<div style="position:absolute;right:225.60px;top:613.40px;height:13.80px;line-height:13.80px;text-align:right;font-size:11.5px;font-family:'DejaVu Sans', sans-serif;white-space:nowrap;color:#222;-webkit-text-stroke:0.2px #222;">6,700</div>
<div style="position:absolute;right:128.20px;top:613.40px;height:13.80px;line-height:13.80px;text-align:right;font-size:11.5px;font-family:'DejaVu Sans', sans-serif;white-space:nowrap;color:#222;-webkit-text-stroke:0.2px #222;">4,500</div>
<div style="position:absolute;right:31.00px;top:613.40px;height:13.80px;line-height:13.80px;text-align:right;font-size:11.5px;font-family:'DejaVu Sans', sans-serif;white-space:nowrap;color:#222;-webkit-text-stroke:0.2px #222;">2,200</div>
<div style="position:absolute;left:36.20px;width:118.80px;top:631.34px;height:15.12px;line-height:15.12px;text-align:center;font-size:12.6px;font-family:'Liberation Sans', 'Noto Sans CJK JP', sans-serif;white-space:nowrap;font-weight:500;color:#222;transform:scaleY(0.87);">資源循環</div>
<div style="position:absolute;right:712.20px;top:631.50px;height:13.80px;line-height:13.80px;text-align:right;font-size:11.5px;font-family:'DejaVu Sans', sans-serif;white-space:nowrap;color:#222;-webkit-text-stroke:0.2px #222;">122,000</div>
<div style="position:absolute;right:614.80px;top:631.50px;height:13.80px;line-height:13.80px;text-align:right;font-size:11.5px;font-family:'DejaVu Sans', sans-serif;white-space:nowrap;color:#222;-webkit-text-stroke:0.2px #222;">105,000</div>
<div style="position:absolute;right:517.60px;top:631.50px;height:13.80px;line-height:13.80px;text-align:right;font-size:11.5px;font-family:'DejaVu Sans', sans-serif;white-space:nowrap;color:#222;-webkit-text-stroke:0.2px #222;">17,000</div>
<div style="position:absolute;right:420.20px;top:631.50px;height:13.80px;line-height:13.80px;text-align:right;font-size:11.5px;font-family:'DejaVu Sans', sans-serif;white-space:nowrap;color:#222;-webkit-text-stroke:0.2px #222;">8,500</div>
<div style="position:absolute;right:322.70px;top:631.50px;height:13.80px;line-height:13.80px;text-align:right;font-size:11.5px;font-family:'DejaVu Sans', sans-serif;white-space:nowrap;color:#222;-webkit-text-stroke:0.2px #222;">4,000</div>
<div style="position:absolute;right:225.60px;top:631.50px;height:13.80px;line-height:13.80px;text-align:right;font-size:11.5px;font-family:'DejaVu Sans', sans-serif;white-space:nowrap;color:#222;-webkit-text-stroke:0.2px #222;">4,500</div>
<div style="position:absolute;right:128.20px;top:631.50px;height:13.80px;line-height:13.80px;text-align:right;font-size:11.5px;font-family:'DejaVu Sans', sans-serif;white-space:nowrap;color:#222;-webkit-text-stroke:0.2px #222;">900</div>
<div style="position:absolute;right:31.00px;top:631.50px;height:13.80px;line-height:13.80px;text-align:right;font-size:11.5px;font-family:'DejaVu Sans', sans-serif;white-space:nowrap;color:#222;-webkit-text-stroke:0.2px #222;">3,600</div>
<div style="position:absolute;right:225.60px;top:648.77px;height:15.36px;line-height:15.36px;text-align:right;font-size:12.8px;font-family:'Liberation Sans', sans-serif;white-space:nowrap;font-weight:bold;color:#1a1a1a;">1,231,900</div>
<div style="position:absolute;right:128.20px;top:648.77px;height:15.36px;line-height:15.36px;text-align:right;font-size:12.8px;font-family:'Liberation Sans', sans-serif;white-space:nowrap;font-weight:bold;color:#1a1a1a;">805,700</div>
<div style="position:absolute;right:31.00px;top:648.77px;height:15.36px;line-height:15.36px;text-align:right;font-size:12.8px;font-family:'Liberation Sans', sans-serif;white-space:nowrap;font-weight:bold;color:#1a1a1a;">426,200</div>
<svg style="position:absolute;left:0;top:0" width="963" height="100">
<polygon points="707,39.5 672.1,50.6 678.4,52.9" fill="#5aa8d8"/>
<polygon points="706.6,40 679.2,53.5 681.2,55.3" fill="#f0b326"/>
<polygon points="706.6,40.3 681.4,56.3 682.3,62.2" fill="#4caf50"/>
<polygon points="706.4,40.5 686.4,60.6 688.8,62.8" fill="#f5c6d0"/>
<polygon points="706.4,40.6 689.6,64.2 692.4,67.3" fill="#3d5aa9"/>
</svg>
<div class="a" style="left:670.0px;top:64.8px;font-size:8.9px;font-family:'Liberation Sans', sans-serif;color:#3a3a3a;-webkit-text-stroke:0.45px #3a3a3a;transform:scaleX(1);transform-origin:0 0;">I</div>
<div class="a" style="left:677.2px;top:64.8px;font-size:8.9px;font-family:'Liberation Sans', sans-serif;color:#3a3a3a;-webkit-text-stroke:0.45px #3a3a3a;transform:scaleX(0.72);transform-origin:0 0;">S</div>
<div class="a" style="left:684.3px;top:64.8px;font-size:8.9px;font-family:'Liberation Sans', sans-serif;color:#3a3a3a;-webkit-text-stroke:0.45px #3a3a3a;transform:scaleX(0.95);transform-origin:0 0;">A</div>
<div class="a" style="left:711.6px;top:40.1px;font-size:4.9px;font-family:'Noto Sans CJK JP', 'Liberation Sans', sans-serif;color:#333;">世界をつなぐ。未来をつくる。</div>
<div class="a" style="left:711.4px;top:48.2px;font-size:14.2px;font-family:'Noto Sans CJK JP', 'Liberation Sans', sans-serif;color:#111;letter-spacing:-0.8px;font-weight:500;">出入国在留管理庁</div>
<div class="a" style="left:712px;top:67px;font-size:5.7px;font-family:'Liberation Sans', sans-serif;color:#333;font-weight:bold;">Immigration Services Agency</div>
<svg style="position:absolute;left:0;top:0" width="963" height="100">
<circle cx="840.7" cy="51.8" r="2.2" fill="#e8262c"/>
<circle cx="848.5" cy="49.1" r="2.3" fill="#21409a"/>
<path d="M838.3,48.5 C834.5,51 832.6,56 834.5,60.5 C836.5,64.5 841,67.5 846.3,69 C842.5,66 839,62.5 837.8,58.5 C837,56 837.5,54.5 839.5,55.2 C841.5,55.8 843.5,56.5 845,57.6 C842.8,55 840.5,54.2 838.5,53.4 C837.3,52.8 837.3,50.2 838.3,48.5 Z" fill="#e8262c"/>
<path d="M846.8,44.3 C853.5,45.2 859.2,49.6 859.6,56.2 C860,62.8 854.3,67.6 847.5,69 C852.4,65.6 855.8,61.6 856,57.5 C856.2,54 854.2,52.6 851.8,52.6 C849.2,52.6 846.8,54.4 845.2,57.2 C845.8,54 848,51.8 850.5,51 C852,50.4 852,48.2 850.8,46.8 C849.8,45.6 848.3,44.8 846.8,44.3 Z" fill="#21409a"/>
</svg>
<div class="a" style="left:880px;top:41.9px;font-size:4.1px;font-family:'Noto Sans CJK JP', 'Liberation Sans', sans-serif;color:#333;">ひと、くらし、みらいのために</div>
<div class="a" style="left:866.6px;top:46.9px;font-size:17px;font-family:'Noto Sans CJK JP', 'Liberation Sans', sans-serif;color:#333;font-weight:700;">厚生労働省</div>
<div class="a" style="left:866.6px;top:66.9px;font-size:4.6px;font-family:'Liberation Sans', sans-serif;color:#333;font-weight:bold;">Ministry of Health, Labour and Welfare</div>
<div style="position:absolute;left:80.00px;top:136.00px;width:122.50px;height:26.30px;background:#fdc9cb;"></div>
<div style="position:absolute;left:80.00px;top:162.30px;width:122.50px;height:19.40px;background:#fffb97;"></div>
<div style="position:absolute;left:80.00px;top:181.70px;width:122.50px;height:17.80px;background:#fffb97;"></div>
<div style="position:absolute;left:80.00px;top:199.50px;width:122.50px;height:39.50px;background:#9bdcf5;"></div>
<div style="position:absolute;left:80.00px;top:162.00px;width:122.50px;height:1.30px;background:#f3c46c;"></div>
<div style="position:absolute;left:80.00px;top:181.20px;width:122.50px;height:1.00px;background:#f3c46c;"></div>
<svg style="position:absolute;left:0;top:0" width="963" height="260">
<path d="M78,228.6 Q77.8,226.4 80.0,228.6 Q82.2,226.4 84.4,228.6 Q86.6,226.4 88.8,228.6 Q91.0,226.4 93.2,228.6 Q95.4,226.4 97.6,228.6 Q99.8,226.4 102.0,228.6 Q104.2,226.4 106.4,228.6 Q108.6,226.4 110.8,228.6 Q113.0,226.4 115.2,228.6 Q117.4,226.4 119.6,228.6 Q121.8,226.4 124.0,228.6 Q126.2,226.4 128.4,228.6 Q130.6,226.4 132.8,228.6 Q135.0,226.4 137.2,228.6 Q139.4,226.4 141.6,228.6 Q143.8,226.4 146.0,228.6 Q148.2,226.4 150.4,228.6 Q152.6,226.4 154.8,228.6 Q157.0,226.4 159.2,228.6 Q161.4,226.4 163.6,228.6 Q165.8,226.4 168.0,228.6 Q170.2,226.4 172.4,228.6 Q174.6,226.4 176.8,228.6 Q179.0,226.4 181.2,228.6 Q183.4,226.4 185.6,228.6 Q187.8,226.4 190.0,228.6 Q192.2,226.4 194.4,228.6 Q196.6,226.4 198.8,228.6 Q201.0,226.4 203.2,228.6 Q205.4,226.4 207.6,228.6 L208,233.4 Q205.4,231.4 203.2,233.4 Q201.0,231.4 198.8,233.4 Q196.6,231.4 194.4,233.4 Q192.2,231.4 190.0,233.4 Q187.8,231.4 185.6,233.4 Q183.4,231.4 181.2,233.4 Q179.0,231.4 176.8,233.4 Q174.6,231.4 172.4,233.4 Q170.2,231.4 168.0,233.4 Q165.8,231.4 163.6,233.4 Q161.4,231.4 159.2,233.4 Q157.0,231.4 154.8,233.4 Q152.6,231.4 150.4,233.4 Q148.2,231.4 146.0,233.4 Q143.8,231.4 141.6,233.4 Q139.4,231.4 137.2,233.4 Q135.0,231.4 132.8,233.4 Q130.6,231.4 128.4,233.4 Q126.2,231.4 124.0,233.4 Q121.8,231.4 119.6,233.4 Q117.4,231.4 115.2,233.4 Q113.0,231.4 110.8,233.4 Q108.6,231.4 106.4,233.4 Q104.2,231.4 102.0,233.4 Q99.8,231.4 97.6,233.4 Q95.4,231.4 93.2,233.4 Q91.0,231.4 88.8,233.4 Q86.6,231.4 84.4,233.4 Q82.2,231.4 80.0,233.4 Q77.8,231.4 75.6,233.4 Z" fill="#fff"/>
<path d="M79.7,229 L79.7,139 Q79.7,135.4 83.3,135.4 L199.2,135.4 Q202.8,135.4 202.8,139 L202.8,229" fill="none" stroke="#8a8a8a" stroke-width="1.4" stroke-dasharray="6.5 5.5"/>
<path d="M79.7,233.5 L79.7,236 Q79.7,239.4 83.3,239.4 L199.2,239.4 Q202.8,239.4 202.8,236 L202.8,233.5" fill="none" stroke="#8a8a8a" stroke-width="1.4" stroke-dasharray="6.5 5.5"/>
<path d="M79.2,136 C75.5,136.2 73.4,137.5 73.4,141 L73.4,162.5 C73.4,165.5 71,167 66,167.2 C71,167.4 73.4,169 73.4,172 L73.4,194.5 C73.4,198 75.5,199.3 79.2,199.5" fill="none" stroke="#3a3a3a" stroke-width="1.2"/>
<path d="M202.6,136.9 C206.5,137 208,138 208,140.5 L208,145 C208,147 209.5,147.9 211.4,148 C209.5,148.1 208,149 208,151 L208,156 C208,158.6 206.5,159.6 202.6,159.8" fill="none" stroke="#3a3a3a" stroke-width="1.2"/>
</svg>
<div class="a" style="left:99.2px;top:124.5px;font-size:9.3px;font-family:'Noto Sans CJK JP', 'Liberation Sans', sans-serif;font-weight:bold;-webkit-text-stroke:0.25px currentColor;color:#222;">必要就業者数（Ａ）</div>
<div class="a" style="left:105px;top:137.6px;font-size:9.3px;font-family:'Noto Sans CJK JP', 'Liberation Sans', sans-serif;font-weight:bold;-webkit-text-stroke:0.25px currentColor;color:#e4242b;">特定技能（Ｆ①）</div>
<div class="a" style="left:105px;top:147.8px;font-size:9.3px;font-family:'Noto Sans CJK JP', 'Liberation Sans', sans-serif;font-weight:bold;-webkit-text-stroke:0.25px currentColor;color:#e4242b;">育成就労（Ｆ②）</div>
<div class="a" style="left:98.8px;top:166.7px;font-size:9.3px;font-family:'Noto Sans CJK JP', 'Liberation Sans', sans-serif;font-weight:bold;-webkit-text-stroke:0.25px currentColor;color:#222;">国内人材確保（Ｅ）</div>
<div class="a" style="left:104.6px;top:186px;font-size:9.3px;font-family:'Noto Sans CJK JP', 'Liberation Sans', sans-serif;font-weight:bold;-webkit-text-stroke:0.25px currentColor;color:#222;">生産性向上（Ｄ）</div>
<div class="a" style="left:108.6px;top:209.3px;font-size:9.3px;font-family:'Noto Sans CJK JP', 'Liberation Sans', sans-serif;font-weight:bold;-webkit-text-stroke:0.25px currentColor;color:#222;">就業者数（Ｂ）</div>
<div class="a" style="left:22.3px;top:154.6px;font-size:9px;font-family:'Noto Sans CJK JP', 'Liberation Sans', sans-serif;font-weight:bold;-webkit-text-stroke:0.25px currentColor;color:#222;">人手不足数</div>
<div class="a" style="left:31px;top:165.8px;font-size:9px;font-family:'Noto Sans CJK JP', 'Liberation Sans', sans-serif;font-weight:bold;-webkit-text-stroke:0.25px currentColor;color:#222;">（Ｃ）</div>
<div class="a" style="left:210.2px;top:138.5px;font-size:8.5px;font-family:'Noto Sans CJK JP', 'Liberation Sans', sans-serif;font-weight:bold;-webkit-text-stroke:0.25px currentColor;color:#e4242b;">受入れ見込数</div>
<div class="a" style="left:224.4px;top:149.6px;font-size:8.5px;font-family:'Noto Sans CJK JP', 'Liberation Sans', sans-serif;font-weight:bold;-webkit-text-stroke:0.25px currentColor;color:#e4242b;">（Ｆ）</div>
<svg style="position:absolute;left:0;top:0;overflow:visible" width="1" height="1">
<polygon points="276.90000000000003,150.3 284.0,150.3 274.3,155.70000000000002" fill="#000"/>
<polygon points="274.8,144.8 283.7,150.3 277.2,150.3" fill="#fff" stroke="#222" stroke-width="0.8"/>
</svg>
<svg style="position:absolute;left:0;top:0;overflow:visible" width="1" height="1">
<polygon points="276.90000000000003,179.8 284.0,179.8 274.3,185.20000000000002" fill="#000"/>
<polygon points="274.8,174.3 283.7,179.8 277.2,179.8" fill="#fff" stroke="#222" stroke-width="0.8"/>
</svg>
<div class="a" style="left:300.6px;top:140.5px;font-size:16.2px;font-family:'Noto Sans CJK JP', 'Liberation Sans', sans-serif;font-weight:bold;color:#1a1a1a;transform:scaleY(0.86);transform-origin:0 50%;-webkit-text-stroke:0.15px #1a1a1a;">基準時点は、令和１０年度末</div>
<div class="a" style="left:300.6px;top:171px;font-size:16.2px;font-family:'Noto Sans CJK JP', 'Liberation Sans', sans-serif;font-weight:bold;color:#1a1a1a;transform:scaleY(0.86);transform-origin:0 50%;-webkit-text-stroke:0.15px #1a1a1a;">人手不足数（C）＝必要就業者数（A）ー 就業者数（B）</div>
<div class="a" style="left:300.6px;top:188.6px;font-size:16.2px;font-family:'Noto Sans CJK JP', 'Liberation Sans', sans-serif;font-weight:bold;color:#1a1a1a;transform:scaleY(0.86);transform-origin:0 50%;-webkit-text-stroke:0.15px #1a1a1a;">受入れ見込数（F）＝人手不足数（C）ー（生産性向上（D）＋ 国内人材確保（E））</div>
<div class="a" style="left:300.6px;top:207px;font-size:16.2px;font-family:'Noto Sans CJK JP', 'Liberation Sans', sans-serif;color:#1a1a1a;transform:scaleY(0.86);transform-origin:0 50%;-webkit-text-stroke:0.15px #1a1a1a;">※受入れ見込数（F）は、①特定技能と②育成就労に配分</div>
<div class="a" style="left:41px;top:668.6px;font-size:11.2px;font-family:'Liberation Sans', 'Noto Sans CJK JP', sans-serif;color:#222;">（注）航空分野と自動車運送業分野は、育成就労の設定なし。</div>
<div class="a" style="left:901.5px;top:232.5px;font-size:12px;font-family:'Liberation Sans', 'Noto Sans CJK JP', sans-serif;color:#222;">（人）</div>
</body></html>
